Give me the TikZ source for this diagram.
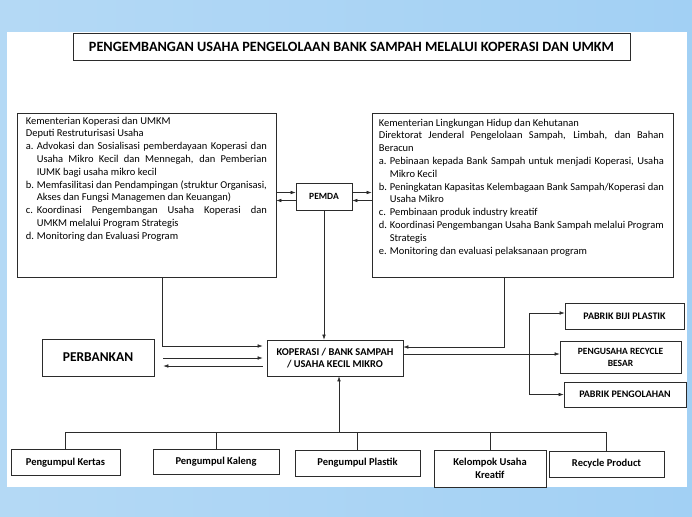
\documentclass[tikz,border=0pt]{standalone}
\usepackage{fontspec}
\setmainfont{Carlito}
\usetikzlibrary{arrows.meta,positioning}

\definecolor{frameblue}{HTML}{B4D9F5}
\definecolor{framelight}{HTML}{E8F4FC}
\definecolor{frameright}{HTML}{A2D0F4}
\definecolor{boxline}{HTML}{2B2B2B}

\newcommand{\itm}[2]{\par\hangindent=11pt\hangafter=1\noindent\makebox[11pt][l]{#1}#2}
\newcommand{\txtsize}{\fontsize{10.5}{12.8}\selectfont}

\begin{document}
\begin{tikzpicture}[x=1pt,y=-1pt,
    box/.style={draw=boxline,line width=0.7pt,inner sep=2pt,align=center},
    boxtext/.style={inner sep=0pt,align=justify,font=\txtsize},
    arr/.style={-{Latex[length=5pt,width=3.6pt]},line width=0.6pt,draw=boxline},
    link/.style={line width=0.6pt,draw=boxline}]
  \useasboundingbox (0,0) rectangle (692,516);
  % frame
  \fill[left color=frameblue,middle color=framelight,right color=frameright] (0,0) rectangle (692,516);
  \fill[white] (7,32) rectangle (687,487);

  \begin{scope}[every node/.style={box}]
    \node[minimum width=557pt,minimum height=27pt,font=\fontsize{14.2}{16}\selectfont\bfseries] (title) at (351.5,46.5)
      {PENGEMBANGAN USAHA PENGELOLAAN BANK SAMPAH MELALUI KOPERASI DAN UMKM};
    \node[minimum width=259pt,minimum height=164pt] (kemkop) at (146.5,195) {};
    \node[minimum width=301pt,minimum height=164pt] (kemlh) at (522.5,195) {};
    \node[minimum width=56pt,minimum height=27pt,font=\fontsize{9.5}{11}\selectfont\bfseries] (pemda) at (324,196.5) {PEMDA};
    \node[minimum width=136pt,minimum height=36pt,font=\fontsize{10.4}{12}\selectfont\bfseries] (kop) at (335,358)
      {KOPERASI / BANK SAMPAH\\/ USAHA KECIL MIKRO};
    \node[minimum width=112pt,minimum height=37pt,font=\fontsize{13.5}{16}\selectfont\bfseries] (perb) at (98,357.5) {PERBANKAN};
  \end{scope}

  \begin{scope}[every node/.style={box,font=\fontsize{10}{12}\selectfont\bfseries}]
    \node[minimum width=119pt,minimum height=26pt] (biji) at (624.5,316) {PABRIK BIJI PLASTIK};
    \node[minimum width=121pt,minimum height=32pt,font=\fontsize{9.5}{12}\selectfont\bfseries] (besar) at (620.5,357)
      {PENGUSAHA RECYCLE\\BESAR};
    \node[minimum width=122pt,minimum height=25pt] (olah) at (625,394.5) {PABRIK PENGOLAHAN};
  \end{scope}

  \begin{scope}[every node/.style={box,font=\fontsize{10.5}{13}\selectfont\bfseries}]
    \node[minimum width=109pt,minimum height=26pt] (kertas) at (65.5,462.5) {Pengumpul Kertas};
    \node[minimum width=126pt,minimum height=25pt] (kaleng) at (216,461.5) {Pengumpul Kaleng};
    \node[minimum width=125pt,minimum height=26pt] (plastik) at (357.5,463) {Pengumpul Plastik};
    \node[minimum width=112pt,minimum height=37pt] (kreatif) at (490,468.5) {Kelompok Usaha\\Kreatif};
    \node[minimum width=115pt,minimum height=26pt] (recycle) at (606.5,464) {Recycle Product};
  \end{scope}

  % text of the two ministries
  \node[boxtext,text width=241pt,anchor=north west] (kemkoptxt) at ([xshift=9pt,yshift=-4pt]kemkop.north west) {%
    Kementerian Koperasi dan UMKM\par
    Deputi Restruturisasi Usaha
    \itm{a.}{Advokasi dan Sosialisasi pemberdayaan Koperasi dan\linebreak
      Usaha Mikro Kecil dan Mennegah, dan Pemberian\linebreak IUMK bagi usaha mikro kecil}
    \itm{b.}{Memfasilitasi dan Pendampingan (struktur Organisasi,\linebreak
      Akses dan Fungsi Managemen dan Keuangan)}
    \itm{c.}{Koordinasi Pengembangan Usaha Koperasi dan\linebreak UMKM melalui Program Strategis}
    \itm{d.}{Monitoring dan Evaluasi Program}\par};
  \node[boxtext,text width=285pt,anchor=north west] (kemlhtxt) at ([xshift=7pt,yshift=-6pt]kemlh.north west) {%
    Kementerian Lingkungan Hidup dan Kehutanan\par
    Direktorat Jenderal Pengelolaan Sampah, Limbah, dan Bahan\linebreak Beracun
    \itm{a.}{Pebinaan kepada Bank Sampah untuk menjadi Koperasi, Usaha\linebreak Mikro Kecil}
    \itm{b.}{Peningkatan Kapasitas Kelembagaan Bank Sampah/Koperasi dan\linebreak Usaha Mikro}
    \itm{c.}{Pembinaan produk industry kreatif}
    \itm{d.}{Koordinasi Pengembangan Usaha Bank Sampah melalui Program\linebreak Strategis}
    \itm{e.}{Monitoring dan evaluasi pelaksanaan program}\par};

  % PEMDA links
  \draw[arr] ([yshift=4pt]pemda.west -| kemkop.east) -- ([yshift=4pt]pemda.west);
  \draw[arr] ([yshift=-4pt]pemda.west) -- ([yshift=-4pt]pemda.west -| kemkop.east);
  \draw[arr] ([yshift=4pt]pemda.east) -- ([yshift=4pt]pemda.east -| kemlh.west);
  \draw[arr] ([yshift=-4pt]pemda.east -| kemlh.west) -- ([yshift=-4pt]pemda.east);
  \draw[arr] (pemda.south) -- (pemda.south |- kop.north);

  % into the koperasi box
  \coordinate (kkdown) at ([xshift=15.5pt]kemkop.south);
  \coordinate (lhdown) at ([xshift=-18.5pt]kemlh.south);
  \draw[arr,shorten >=4pt] (kkdown) |- ([yshift=12pt]kop.west);
  \draw[arr] (lhdown) |- ([yshift=11pt]kop.east);
  \draw[arr,shorten >=4pt] ([xshift=9pt]perb.east |- kop.west) -- (kop.west);
  \draw[arr,shorten <=4pt] ([yshift=-8pt]kop.west) -- ([xshift=9pt,yshift=-8pt]perb.east |- kop.west);

  % to the factories
  \coordinate (kopout) at ([yshift=4pt]kop.east);
  \coordinate (branch) at (529,354);
  \draw[arr] (kopout) -- (kopout -| besar.west);
  \draw[arr] (branch) |- ([yshift=3pt]biji.west);
  \draw[arr] (branch) |- (olah.west);

  % collectors
  \coordinate (bus) at (339,432);
  \draw[arr] (bus) -- (bus |- kop.south);
  \draw[link] (kertas.north |- bus) -- (recycle.north |- bus);
  \foreach \grp in {kertas,kaleng,plastik,kreatif,recycle}
    \draw[link] (\grp.north |- bus) -- (\grp.north);
\end{tikzpicture}
\end{document}
